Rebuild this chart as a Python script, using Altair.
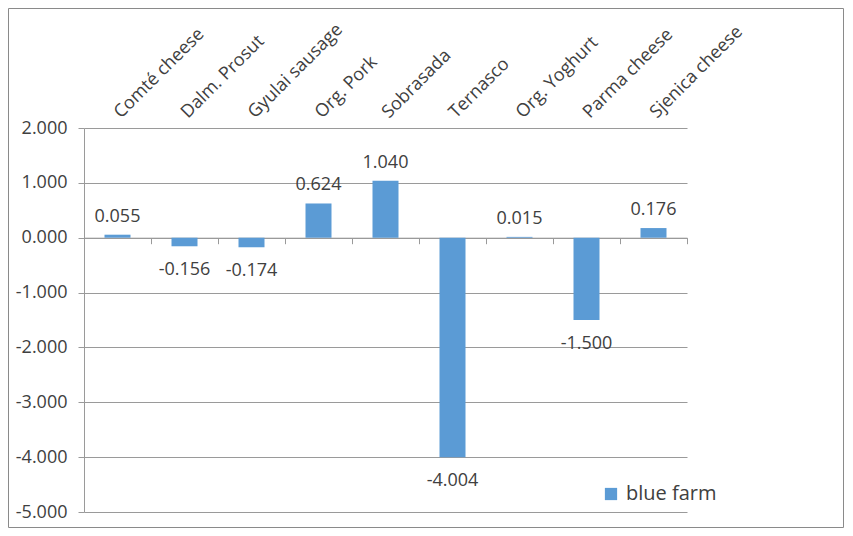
import altair as alt
import pandas as pd

categories = ["Comté cheese", "Dalm. Prosut", "Gyulai sausage", "Org. Pork", "Sobrasada",
              "Ternasco", "Org. Yoghurt", "Parma cheese", "Sjenica cheese"]
values = [0.055, -0.156, -0.174, 0.624, 1.040, -4.004, 0.015, -1.500, 0.176]
series_name = "blue farm"
y_ticks = [-5, -4, -3, -2, -1, 0, 1, 2]

df = pd.DataFrame({
    "cat": categories,
    "val": values,
    "label": [f"{v:.3f}" for v in values],
    "series": [series_name] * len(values),
})

FONT = "Open Sans"
FS = 18
TXT = "#404040"
GRID = "#9a9a9a"
BAR = "#5B9BD5"

W, H = 603, 384

xscale = alt.Scale(domain=categories, paddingInner=0, paddingOuter=0)
yscale = alt.Scale(domain=[-5, 2], nice=False, zero=False)

base = alt.Chart(df)

bars = base.mark_bar(size=26, color=BAR).encode(
    x=alt.X("cat:N", scale=xscale, sort=categories, title=None,
            axis=alt.Axis(orient="top", labelAngle=-45, labelAlign="left", labelBaseline="middle",
                          ticks=False, tickSize=0, domain=False, labelPadding=13,
                          labelFont=FONT, labelFontSize=FS, labelColor=TXT, labelLimit=300)),
    y=alt.Y("val:Q", scale=yscale, title=None,
            axis=alt.Axis(values=y_ticks, grid=True, gridColor=GRID, domainColor=GRID,
                          tickColor=GRID, tickSize=6, labelPadding=11,
                          labelExpr="(datum.value < 0 ? '-' : '') + format(abs(datum.value), '.3f')",
                          labelFont=FONT, labelFontSize=FS, labelColor=TXT)),
    color=alt.Color("series:N", scale=alt.Scale(range=[BAR]),
                    legend=alt.Legend(orient="none", legendX=517, legendY=356, title=None,
                                      symbolType="square", symbolSize=150, symbolStrokeWidth=0,
                                      labelFont=FONT, labelFontSize=20, labelColor=TXT,
                                      labelOffset=5, padding=0)),
)

pos_text = base.transform_filter("datum.val >= 0").mark_text(
    baseline="alphabetic", dy=-13, font=FONT, fontSize=FS, color=TXT
).encode(
    x=alt.X("cat:N", scale=xscale, sort=categories, title=None,
            axis=alt.Axis(orient="bottom", offset=-274.3, labels=False, tickBand="extent",
                          tickSize=6, tickColor=GRID, domainColor=GRID, grid=False)),
    y=alt.Y("val:Q", scale=yscale, axis=None),
    text="label:N",
)

neg_text = base.transform_filter("datum.val < 0").mark_text(
    baseline="alphabetic", dy=29, font=FONT, fontSize=FS, color=TXT
).encode(
    x=alt.X("cat:N", scale=xscale, sort=categories, axis=None),
    y=alt.Y("val:Q", scale=yscale, axis=None),
    text="label:N",
)

border = alt.Chart(pd.DataFrame({"a": [0]})).mark_rect(
    fillOpacity=0, stroke="#8a8a8a", strokeWidth=1
).encode(
    x=alt.value(-75.5), x2=alt.value(759.5),
    y=alt.value(-119.5), y2=alt.value(399.5),
)

chart = alt.layer(bars, pos_text, neg_text, border).resolve_axis(
    x="independent", y="independent"
).properties(
    width=W, height=H,
    autosize=alt.AutoSizeParams(type="none"),
    padding={"left": 76, "top": 120, "right": 157, "bottom": 16},
    background="white",
).configure_view(strokeWidth=0)

chart.save("out.html", embed_options={"renderer": "svg", "actions": False})
